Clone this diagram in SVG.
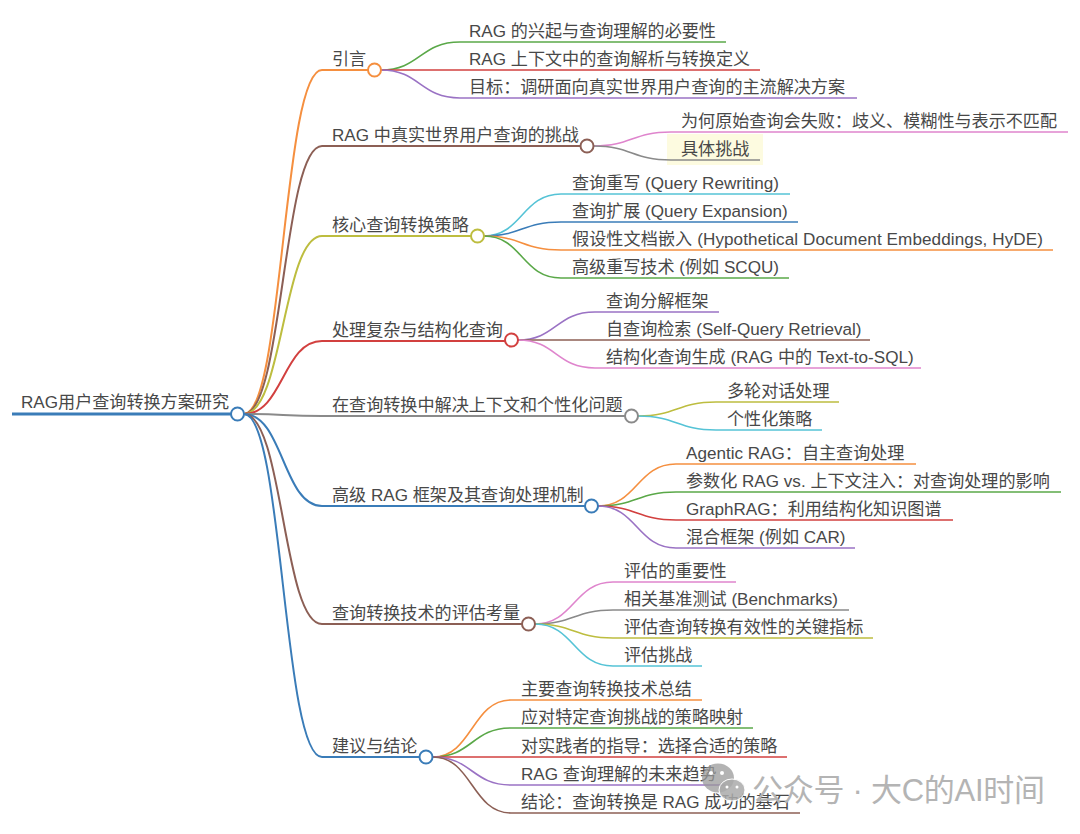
<svg xmlns="http://www.w3.org/2000/svg" width="1080" height="834" viewBox="0 0 1080 834">
<style>
text{font-family:"Liberation Sans","Noto Sans CJK SC",sans-serif;font-size:17.1px;fill:#484848}
path,line{fill:none;stroke-linecap:butt}
circle{fill:#fff;stroke-width:2}
.l1{stroke-width:2}.l2{stroke-width:1.6}
.b{stroke:#3a7cb8}.o{stroke:#f58f3f}.g{stroke:#5aa848}.r{stroke:#d2403f}.p{stroke:#9a72c4}.n{stroke:#8c5f55}.k{stroke:#df85cd}.y{stroke:#8a8a8a}.v{stroke:#bdbd3f}.c{stroke:#55c3d6}
#wm text{font-size:31px;fill:#b4b4b4}
</style>
<rect width="1080" height="834" fill="#fff"/>
<rect x="667" y="134" width="96" height="31" fill="#fdfbe0"/>
<g id="connectors">
<path class="l1 o" d="M244 414C283 414 283 70 322 70"/>
<path class="l1 n" d="M244 414C283 414 283 146 322 146"/>
<path class="l1 v" d="M244 414C283 414 283 236 322 236"/>
<path class="l1 r" d="M244 414C283 414 283 341 322 341"/>
<path class="l1 y" d="M244 414C283 414 283 416 322 416"/>
<path class="l1 b" d="M244 414C283 414 283 506 322 506"/>
<path class="l1 n" d="M244 414C283 414 283 624 322 624"/>
<path class="l1 b" d="M244 414C283 414 283 757 322 757"/>
<path class="l2 g" d="M381 70C420 70 420 42 460 42"/>
<path class="l2 r" d="M381 70L460 70"/>
<path class="l2 p" d="M381 70C420 70 420 98 460 98"/>
<path class="l2 k" d="M594 146C632 146 632 132 671 132"/>
<path class="l2 y" d="M594 146C632 146 632 160 671 160"/>
<path class="l2 c" d="M484 236C522 236 522 194 561 194"/>
<path class="l2 b" d="M484 236C522 236 522 222 561 222"/>
<path class="l2 o" d="M484 236C522 236 522 250 561 250"/>
<path class="l2 g" d="M484 236C522 236 522 278 561 278"/>
<path class="l2 p" d="M518 340C556 340 556 312 595 312"/>
<path class="l2 n" d="M518 340L595 340"/>
<path class="l2 k" d="M518 340C556 340 556 368 595 368"/>
<path class="l2 v" d="M638 416C677 416 677 402 716 402"/>
<path class="l2 c" d="M638 416C677 416 677 430 716 430"/>
<path class="l2 o" d="M598 506C637 506 637 464 676 464"/>
<path class="l2 g" d="M598 506C637 506 637 492 676 492"/>
<path class="l2 r" d="M598 506C637 506 637 520 676 520"/>
<path class="l2 p" d="M598 506C637 506 637 548 676 548"/>
<path class="l2 k" d="M535 624C574 624 574 582 613 582"/>
<path class="l2 y" d="M535 624C574 624 574 610 613 610"/>
<path class="l2 v" d="M535 624C574 624 574 638 613 638"/>
<path class="l2 c" d="M535 624C574 624 574 666 613 666"/>
<path class="l2 o" d="M433 757C472 757 472 700 511 700"/>
<path class="l2 g" d="M433 757C472 757 472 728 511 728"/>
<path class="l2 r" d="M433 757L511 757"/>
<path class="l2 p" d="M433 757C472 757 472 785 511 785"/>
<path class="l2 n" d="M433 757C472 757 472 813 511 813"/>
</g>
<g id="root"><text x="21" y="408">RAG用户查询转换方案研究</text><line x1="12" y1="414" x2="231" y2="414" class="b" stroke-width="3"/><circle cx="237.500" cy="414" r="6.500" class="b"/></g>
<g id="n1"><text x="332" y="65">引言</text><line x1="322" y1="70" x2="368" y2="70" class="l1 o"/><circle cx="374.500" cy="70" r="6.500" class="o"/></g>
<g id="n1-1"><text x="469" y="37">RAG 的兴起与查询理解的必要性</text><line x1="460" y1="42" x2="726" y2="42" class="l2 g"/></g>
<g id="n1-2"><text x="469" y="65">RAG 上下文中的查询解析与转换定义</text><line x1="460" y1="70" x2="760" y2="70" class="l2 r"/></g>
<g id="n1-3"><text x="469" y="93">目标：调研面向真实世界用户查询的主流解决方案</text><line x1="460" y1="98" x2="857" y2="98" class="l2 p"/></g>
<g id="n2"><text x="332" y="141">RAG 中真实世界用户查询的挑战</text><line x1="322" y1="146" x2="581" y2="146" class="l1 n"/><circle cx="587" cy="146" r="6.500" class="n"/></g>
<g id="n2-1"><text x="681" y="127">为何原始查询会失败：歧义、模糊性与表示不匹配</text><line x1="671" y1="132" x2="1068" y2="132" class="l2 k"/></g>
<g id="n2-2"><text x="681" y="155">具体挑战</text><line x1="671" y1="160" x2="760" y2="160" class="l2 y"/></g>
<g id="n3"><text x="332" y="231">核心查询转换策略</text><line x1="322" y1="236" x2="471" y2="236" class="l1 v"/><circle cx="477.500" cy="236" r="6.500" class="v"/></g>
<g id="n3-1"><text x="572" y="189">查询重写 (Query Rewriting)</text><line x1="561" y1="194" x2="790" y2="194" class="l2 c"/></g>
<g id="n3-2"><text x="572" y="217">查询扩展 (Query Expansion)</text><line x1="561" y1="222" x2="798" y2="222" class="l2 b"/></g>
<g id="n3-3"><text x="572" y="245" textLength="471">假设性文档嵌入 (Hypothetical Document Embeddings, HyDE)</text><line x1="561" y1="250" x2="1053" y2="250" class="l2 o"/></g>
<g id="n3-4"><text x="572" y="273">高级重写技术 (例如 SCQU)</text><line x1="561" y1="278" x2="789" y2="278" class="l2 g"/></g>
<g id="n4"><text x="332" y="336">处理复杂与结构化查询</text><line x1="322" y1="341" x2="505" y2="341" class="l1 r"/><circle cx="511.500" cy="340" r="6.500" class="r"/></g>
<g id="n4-1"><text x="606" y="307">查询分解框架</text><line x1="595" y1="312" x2="719" y2="312" class="l2 p"/></g>
<g id="n4-2"><text x="606" y="335">自查询检索 (Self-Query Retrieval)</text><line x1="595" y1="340" x2="870" y2="340" class="l2 n"/></g>
<g id="n4-3"><text x="606" y="363">结构化查询生成 (RAG 中的 Text-to-SQL)</text><line x1="595" y1="368" x2="921" y2="368" class="l2 k"/></g>
<g id="n5"><text x="332" y="411">在查询转换中解决上下文和个性化问题</text><line x1="322" y1="416" x2="625" y2="416" class="l1 y"/><circle cx="631.500" cy="416" r="6.500" class="y"/></g>
<g id="n5-1"><text x="727" y="397">多轮对话处理</text><line x1="716" y1="402" x2="839" y2="402" class="l2 v"/></g>
<g id="n5-2"><text x="727" y="425">个性化策略</text><line x1="716" y1="430" x2="822" y2="430" class="l2 c"/></g>
<g id="n6"><text x="332" y="501">高级 RAG 框架及其查询处理机制</text><line x1="322" y1="506" x2="585" y2="506" class="l1 b"/><circle cx="591.500" cy="506" r="6.500" class="b"/></g>
<g id="n6-1"><text x="686" y="459">Agentic RAG：自主查询处理</text><line x1="676" y1="464" x2="916" y2="464" class="l2 o"/></g>
<g id="n6-2"><text x="686" y="487">参数化 RAG vs. 上下文注入：对查询处理的影响</text><line x1="676" y1="492" x2="1061" y2="492" class="l2 g"/></g>
<g id="n6-3"><text x="686" y="515">GraphRAG：利用结构化知识图谱</text><line x1="676" y1="520" x2="953" y2="520" class="l2 r"/></g>
<g id="n6-4"><text x="686" y="543">混合框架 (例如 CAR)</text><line x1="676" y1="548" x2="855" y2="548" class="l2 p"/></g>
<g id="n7"><text x="332" y="619">查询转换技术的评估考量</text><line x1="322" y1="624" x2="522" y2="624" class="l1 n"/><circle cx="528.500" cy="624" r="6.500" class="n"/></g>
<g id="n7-1"><text x="624" y="577">评估的重要性</text><line x1="613" y1="582" x2="736" y2="582" class="l2 k"/></g>
<g id="n7-2"><text x="624" y="605" textLength="214">相关基准测试 (Benchmarks)</text><line x1="613" y1="610" x2="849" y2="610" class="l2 y"/></g>
<g id="n7-3"><text x="624" y="633">评估查询转换有效性的关键指标</text><line x1="613" y1="638" x2="873" y2="638" class="l2 v"/></g>
<g id="n7-4"><text x="624" y="661">评估挑战</text><line x1="613" y1="666" x2="702" y2="666" class="l2 c"/></g>
<g id="n8"><text x="332" y="752">建议与结论</text><line x1="322" y1="757" x2="420" y2="757" class="l1 b"/><circle cx="426" cy="757" r="6.500" class="b"/></g>
<g id="n8-1"><text x="521" y="695">主要查询转换技术总结</text><line x1="511" y1="700" x2="702" y2="700" class="l2 o"/></g>
<g id="n8-2"><text x="521" y="723">应对特定查询挑战的策略映射</text><line x1="511" y1="728" x2="753" y2="728" class="l2 g"/></g>
<g id="n8-3"><text x="521" y="752">对实践者的指导：选择合适的策略</text><line x1="511" y1="757" x2="787" y2="757" class="l2 r"/></g>
<g id="n8-4"><text x="521" y="780">RAG 查询理解的未来趋势</text><line x1="511" y1="785" x2="725" y2="785" class="l2 p"/></g>
<g id="n8-5"><text x="521" y="808">结论：查询转换是 RAG 成功的基石</text><line x1="511" y1="813" x2="800" y2="813" class="l2 n"/></g>
<g id="wm">
<ellipse cx="718" cy="778" rx="16" ry="14.500" fill="#999" fill-opacity="0.75"/>
<ellipse cx="732" cy="790" rx="13" ry="11" fill="#aaa" fill-opacity="0.85" stroke="#fff" stroke-width="1"/>
<circle cx="711" cy="773" r="2" fill="#fff" style="stroke:none"/>
<circle cx="722" cy="773" r="2" fill="#fff" style="stroke:none"/>
<circle cx="727" cy="787" r="1.500" fill="#fff" style="stroke:none"/>
<circle cx="737" cy="787" r="1.500" fill="#fff" style="stroke:none"/>
<text x="752" y="801" textLength="293">公众号 · 大C的AI时间</text>
</g>
</svg>
